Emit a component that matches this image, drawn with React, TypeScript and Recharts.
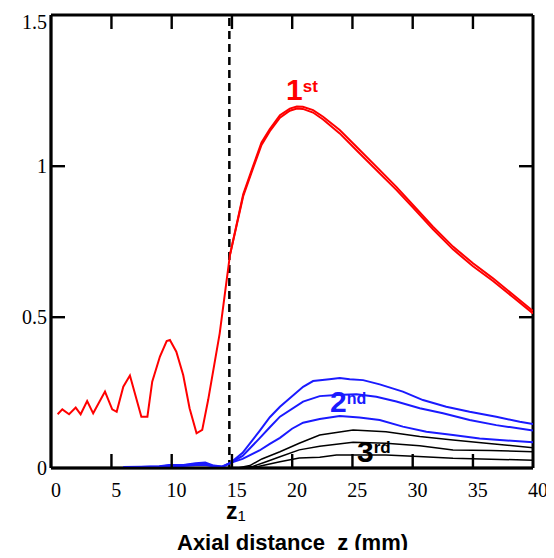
import React from "react";
import { ComposedChart, Line, XAxis, YAxis, ReferenceLine, CartesianGrid } from "recharts";

type P = { z: number; v: number };
const pts = (a: number[][]): P[] => a.map(([z, v]) => ({ z, v }));

const xTicks = [0, 5, 10, 15, 20, 25, 30, 35, 40];
const yTicks = [0, 0.5, 1, 1.5];
const z1 = 14.8;

const red1 = pts([
  [0.55, 0.178], [0.94, 0.194], [1.5, 0.178], [2.05, 0.2], [2.46, 0.178], [3.0, 0.222], [3.5, 0.181],
  [4.48, 0.253], [5.08, 0.194], [5.45, 0.186], [6.0, 0.269], [6.55, 0.306], [7.5, 0.17], [8.0, 0.17],
  [8.4, 0.286], [9.04, 0.369], [9.6, 0.42], [9.87, 0.424], [10.4, 0.385], [10.97, 0.308], [11.5, 0.198],
  [12.08, 0.115], [12.55, 0.126], [13.04, 0.225], [14.0, 0.446], [14.57, 0.62], [14.85, 0.705],
  [15.95, 0.906], [16.77, 1.0], [17.47, 1.078], [18.16, 1.122], [19.0, 1.168], [19.82, 1.19],
  [20.4, 1.197], [20.9, 1.196], [21.75, 1.185], [22.58, 1.163], [23.96, 1.119], [25.35, 1.064],
  [27.0, 0.998], [28.66, 0.931], [30.04, 0.871], [31.7, 0.799], [33.36, 0.733], [35.02, 0.678],
  [36.68, 0.628], [38.3, 0.575], [40, 0.52],
]);

const red2 = pts([
  [14.85, 0.705], [15.95, 0.9], [16.77, 0.993], [17.47, 1.07], [18.16, 1.115], [19.0, 1.16],
  [19.82, 1.183], [20.4, 1.19], [20.9, 1.189], [21.75, 1.177], [22.58, 1.154], [23.96, 1.108],
  [25.35, 1.052], [27.0, 0.987], [28.66, 0.921], [30.04, 0.862], [31.7, 0.79], [33.36, 0.724],
  [35.02, 0.668], [36.68, 0.619], [38.3, 0.567], [40, 0.512],
]);

const blueTop = pts([
  [6.0, 0.003], [7.5, 0.004], [9.0, 0.006], [9.8, 0.01], [11.0, 0.01], [12.0, 0.016], [12.8, 0.018],
  [13.5, 0.008], [14.2, 0.005], [14.85, 0.016], [15.9, 0.05], [17.3, 0.122], [18.16, 0.168],
  [19.0, 0.203], [20.92, 0.269], [21.75, 0.288], [23.1, 0.294], [23.96, 0.298], [24.79, 0.294],
  [25.9, 0.291], [27.28, 0.277], [29.2, 0.253], [30.87, 0.225], [32.8, 0.203], [34.74, 0.186],
  [36.95, 0.17], [38.9, 0.153], [40, 0.146],
]);

const blueMid = pts([
  [6.0, 0.002], [7.5, 0.003], [9.0, 0.005], [9.8, 0.008], [11.0, 0.009], [12.0, 0.013], [12.8, 0.014],
  [13.5, 0.006], [14.2, 0.004], [14.85, 0.016], [15.9, 0.04], [17.3, 0.098], [18.16, 0.135],
  [19.0, 0.17], [20.92, 0.22], [22.3, 0.238], [23.69, 0.242], [25.35, 0.244], [27.0, 0.236],
  [28.66, 0.22], [30.6, 0.198], [32.53, 0.181], [34.74, 0.159], [36.95, 0.142], [40, 0.124],
]);

const blueLow = pts([
  [6.0, 0.001], [7.5, 0.002], [9.0, 0.004], [9.8, 0.006], [11.0, 0.007], [12.0, 0.01], [12.8, 0.011],
  [13.5, 0.005], [14.2, 0.003], [14.85, 0.016], [15.9, 0.03], [17.3, 0.058], [18.16, 0.08],
  [19.0, 0.1], [20.0, 0.13], [20.92, 0.15], [22.3, 0.162], [23.96, 0.172], [25.6, 0.167],
  [27.28, 0.159], [29.2, 0.137], [31.15, 0.12], [33.36, 0.109], [35.57, 0.098], [40, 0.085],
]);

const blackTop = pts([
  [15.5, 0.0], [16.5, 0.008], [17.5, 0.03], [19.0, 0.054], [20.6, 0.082], [22.3, 0.109],
  [25.07, 0.126], [27.8, 0.12], [30.6, 0.104], [33.36, 0.093], [36.13, 0.082], [40, 0.067],
]);

const blackMid = pts([
  [15.8, 0.0], [16.8, 0.006], [17.8, 0.02], [19.0, 0.037], [20.6, 0.06], [22.3, 0.072],
  [25.07, 0.085], [27.8, 0.082], [30.6, 0.074], [33.36, 0.06], [36.5, 0.058], [40, 0.054],
]);

const blackLow = pts([
  [16.0, 0.0], [17.2, 0.005], [19.0, 0.021], [20.6, 0.033], [22.3, 0.036], [23.69, 0.043],
  [27.8, 0.043], [30.5, 0.038], [33.36, 0.032], [40, 0.026],
]);

const SERIF = "'Liberation Serif', 'Times New Roman', serif";
const SANS = "'Liberation Sans', Arial, sans-serif";
const RED = "#ff0000";
const BLUE = "#1a1aff";

const W = 546;
const H = 542;
const M = { top: 7, right: 21, left: 0, bottom: 0 };
const Y_AXIS_W = 43;
const X_AXIS_H = 82;
const PLOT_H = H - M.top - M.bottom - X_AXIS_H;
const PLOT_W = W - M.left - M.right - Y_AXIS_W;
const TICK_LEN = 14;

const isInner = (v: number, arr: number[]) => v !== arr[0] && v !== arr[arr.length - 1];

const XTickBottom = (props: any) => {
  const { x, y, payload } = props;
  const inner = isInner(payload.value, xTicks);
  return (
    <g>
      {inner && <rect x={x - 1} y={y - TICK_LEN} width={2.4} height={TICK_LEN} fill="#000" />}
      {inner && <rect x={x - 1} y={y - PLOT_H} width={2.4} height={TICK_LEN} fill="#000" />}
      <text x={x + 5} y={y + 29} textAnchor="middle" fontFamily={SERIF} fontSize={20} fill="#000">
        {payload.value}
      </text>
    </g>
  );
};

const YTickLeft = (props: any) => {
  const { x, y, payload } = props;
  const inner = isInner(payload.value, yTicks);
  const extra = payload.value === 1.5 ? 7 : 0;
  return (
    <g>
      {inner && <rect x={x} y={y - 1} width={TICK_LEN} height={2.4} fill="#000" />}
      {inner && <rect x={x + PLOT_W - TICK_LEN} y={y - 1} width={TICK_LEN} height={2.4} fill="#000" />}
      <text x={x - 4} y={y + 7 + extra} textAnchor="end" fontFamily={SERIF} fontSize={20} fill="#000">
        {payload.value}
      </text>
    </g>
  );
};

const frameH = ({ offset }: any) => [offset.top, offset.top + offset.height];
const frameV = ({ offset }: any) => [offset.left, offset.left + offset.width];

export default function App() {
  return (
    <div style={{ position: "relative", width: W, height: H }}>
      <ComposedChart width={W} height={H} margin={M}>
        <CartesianGrid
          stroke="#000"
          strokeWidth={3}
          strokeOpacity={1}
          horizontalCoordinatesGenerator={frameH}
          verticalCoordinatesGenerator={frameV}
        />
        <XAxis
          dataKey="z"
          type="number"
          domain={[0, 40]}
          ticks={xTicks}
          interval={0}
          height={X_AXIS_H}
          axisLine={{ stroke: "#000", strokeWidth: 2.5 }}
          tickLine={false}
          tickSize={0}
          tickMargin={0}
          tick={<XTickBottom />}
          allowDataOverflow
        />
        <YAxis
          type="number"
          domain={[0, 1.5]}
          ticks={yTicks}
          interval={0}
          width={Y_AXIS_W}
          axisLine={{ stroke: "#000", strokeWidth: 2.5 }}
          tickLine={false}
          tickSize={0}
          tickMargin={0}
          tick={<YTickLeft />}
          allowDataOverflow
        />
        <ReferenceLine x={z1} stroke="#000" strokeWidth={2.5} strokeDasharray="8 5" />
        <Line data={blackLow} dataKey="v" stroke="#000" strokeWidth={1.5} dot={false} isAnimationActive={false} />
        <Line data={blackMid} dataKey="v" stroke="#000" strokeWidth={1.5} dot={false} isAnimationActive={false} />
        <Line data={blackTop} dataKey="v" stroke="#000" strokeWidth={1.5} dot={false} isAnimationActive={false} />
        <Line data={blueLow} dataKey="v" stroke={BLUE} strokeWidth={2} dot={false} isAnimationActive={false} />
        <Line data={blueMid} dataKey="v" stroke={BLUE} strokeWidth={2} dot={false} isAnimationActive={false} />
        <Line data={blueTop} dataKey="v" stroke={BLUE} strokeWidth={2} dot={false} isAnimationActive={false} />
        <Line data={red2} dataKey="v" stroke={RED} strokeWidth={2} dot={false} isAnimationActive={false} />
        <Line data={red1} dataKey="v" stroke={RED} strokeWidth={2} dot={false} isAnimationActive={false} />
      </ComposedChart>
      <svg
        width={W}
        height={H}
        style={{ position: "absolute", left: 0, top: 0, overflow: "visible", pointerEvents: "none" }}
      >
        <text x={278} y={92} fontFamily={SANS} fontWeight="bold" fontSize={30} fill={RED}>
          1<tspan fontSize={17} dy={-8}>st</tspan>
        </text>
        <text x={322} y={404} fontFamily={SANS} fontWeight="bold" fontSize={30} fill={BLUE}>
          2<tspan fontSize={16} dy={-8}>nd</tspan>
        </text>
        <text x={349} y={454} fontFamily={SANS} fontWeight="bold" fontSize={30} fill="#000">
          3<tspan fontSize={17} dy={-9}>rd</tspan>
        </text>
        <text x={218} y={511} fontFamily={SANS} fontWeight="bold" fontSize={23} fill="#000">
          z<tspan fontSize={15} fontWeight="normal" dy={2}>1</tspan>
        </text>
        <text x={169} y={542} fontFamily={SANS} fontWeight="bold" fontSize={22} fill="#000">
          {"Axial distance\u00a0 z (mm)"}
        </text>
      </svg>
    </div>
  );
}
